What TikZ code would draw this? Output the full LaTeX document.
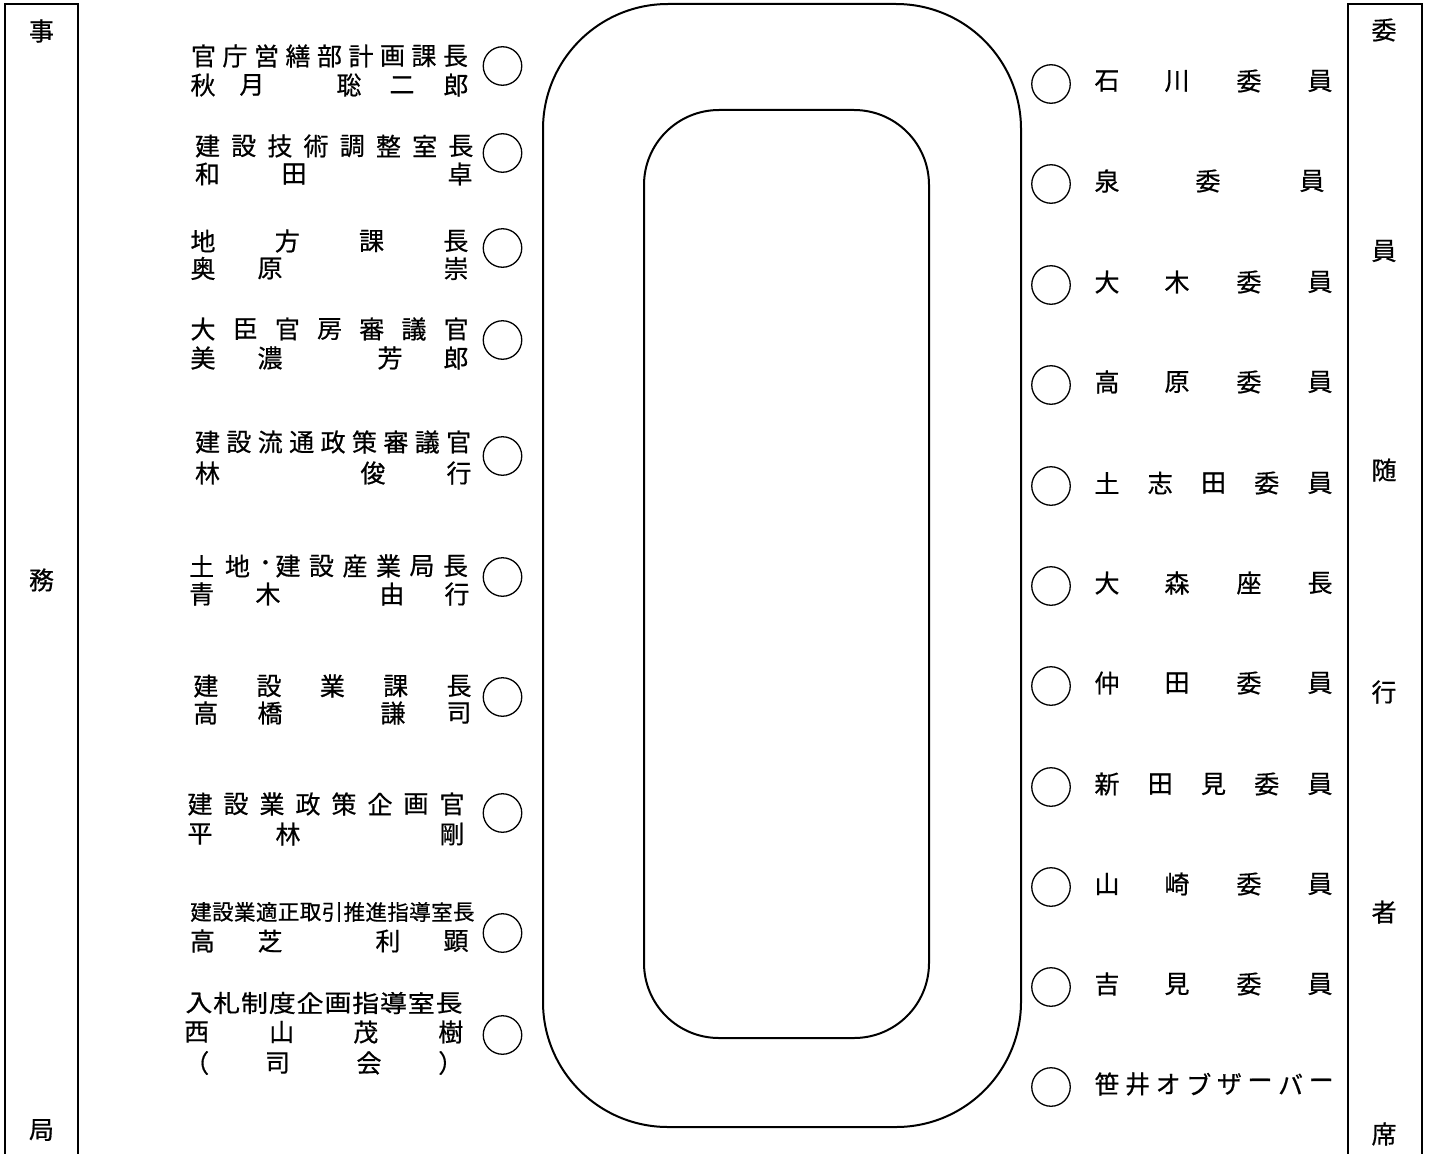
\documentclass[tikz,border=0pt]{standalone}
\usepackage{fontspec}
\usepackage{graphicx}
\setmainfont{Noto Sans CJK JP}[FakeBold=0.6]
\newcommand\evenrow[6]{% style, name, y, x0, step, chars
  \foreach \cc [count=\k from 0] in {#6} {\node[txt,#1] (#2-\k) at ({#4+\k*#5},#3) {\cc};}}
\newcommand\placerow[4]{% style, name, y, x/char list
  \foreach \xx/\cc [count=\k] in {#4} {\node[txt,#1] (#2-\k) at (\xx,#3) {\cc};}}
\begin{document}
\begin{tikzpicture}[x=1pt,y=-1pt,
  txt/.style={inner sep=0pt,font=\fontsize{25}{25}\selectfont},
  small/.style={font=\fontsize{21.5}{21.5}\selectfont},
  wide/.style={font=\fontsize{24}{24}\selectfont},
  seat/.style={circle,draw,line width=1.3pt,minimum size=38.5pt,inner sep=0pt},
  boxline/.style={line width=1.3pt},
  tableline/.style={line width=2pt}]
\useasboundingbox (0,0) rectangle (1431,1153);
\fill[white] (0,0) rectangle (1431,1153);
% side boxes
\draw[boxline] (5,1160) -- (5,4) -- (78,4) -- (78,1160);
\draw[boxline] (1348,1160) -- (1348,4) -- (1422,4) -- (1422,1160);
\node[txt] (jimu1) at (41.5,31) {事};
\node[txt] (jimu2) at (41.5,580) {務};
\node[txt] (jimu3) at (41.5,1130) {局};
\node[txt] (z1) at (1384,30) {委};
\node[txt] (z2) at (1384,251) {員};
\node[txt] (z3) at (1384,470) {随};
\node[txt] (z4) at (1384,692) {行};
\node[txt] (z5) at (1384,912) {者};
\node[txt] (z6) at (1384,1134) {席};
% table
\draw[tableline,rounded corners=125pt] (543,4) rectangle (1021,1127);
\draw[tableline,rounded corners=75pt] (644,110) rectangle (929,1038);
% left seats
\foreach \yy [count=\n] in {66,153,248,340,456,577,697,813,933,1035}
  \node[seat] (ls\n) at (502.5,\yy) {};
% right seats
\foreach \yy [count=\n] in {84,184,285,385,486,586,686,787,887,987,1087}
  \node[seat] (rs\n) at (1051,\yy) {};
% left texts
\evenrow{}{l1a}{56}{203.5}{31.5}{官,庁,営,繕,部,計,画,課,長}
\placerow{}{l1b}{85}{203/秋,252/月,349/聡,402/二,456/郎}
\evenrow{}{l2a}{146}{207.5}{36.2}{建,設,技,術,調,整,室,長}
\placerow{}{l2b}{174}{207.5/和,294/田,460/卓}
\evenrow{}{l3a}{241}{203}{84.3}{地,方,課,長}
\placerow{}{l3b}{268.5}{203/奥,270/原,456/崇}
\evenrow{}{l4a}{329}{203}{42.2}{大,臣,官,房,審,議,官}
\placerow{}{l4b}{358}{203/美,270/濃,390/芳,456/郎}
\evenrow{}{l5a}{442}{207.5}{31.4}{建,設,流,通,政,策,審,議,官}
\placerow{}{l5b}{473}{207.5/林,373/俊,459/行}
\placerow{}{l6a}{566}{201.7/土,237.5/地,288/建,321.5/設,355/産,388.5/業,422/局,455.5/長}
\node[txt] (l6dot) at (265.5,566) {･};
\placerow{}{l6b}{594}{201.7/青,268/木,392/由,457/行}
\evenrow{}{l7a}{686}{205.8}{63.3}{建,設,業,課,長}
\placerow{}{l7b}{713}{205.8/高,270/橋,393/謙,459/司}
\evenrow{}{l8a}{804}{200}{36}{建,設,業,政,策,企,画,官}
\placerow{}{l8b}{834}{200/平,288/林,452/剛}
\evenrow{small}{l9a}{912}{201}{21.9}{建,設,業,適,正,取,引,推,進,指,導,室,長}
\placerow{}{l9b}{941}{202.5/高,270/芝,388/利,456/顕}
\foreach \cc [count=\k from 0] in {入,札,制,度,企,画,指,導,室,長}
  {\node[txt,wide] (l10a-\k) at ({198.9+\k*27.8},1003) {\scalebox{1.12}[1]{\cc}};}
\placerow{}{l10b}{1032}{196.7/西,281.7/山,365.8/茂,450.8/樹}
\placerow{}{l10c}{1063}{196.7/（,277.5/司,369/会,450.8/）}
% right texts
\placerow{}{r1}{81}{1107/石,1177/川,1249/委,1320/員}
\placerow{}{r2}{181}{1107/泉,1208/委,1312/員}
\placerow{}{r3}{282}{1107/大,1177/木,1249/委,1320/員}
\placerow{}{r4}{382}{1107/高,1177/原,1249/委,1320/員}
\evenrow{}{r5}{483}{1107}{53.25}{土,志,田,委,員}
\placerow{}{r6}{583}{1107/大,1177/森,1249/座,1320/長}
\placerow{}{r7}{683}{1107/仲,1177/田,1249/委,1320/員}
\evenrow{}{r8}{784}{1107}{53.25}{新,田,見,委,員}
\placerow{}{r9}{884}{1107/山,1177/崎,1249/委,1320/員}
\placerow{}{r10}{984}{1107/吉,1177/見,1249/委,1320/員}
\evenrow{}{r11}{1084}{1107}{30.6}{笹,井,オ,ブ,ザ,ー,バ,ー}
\end{tikzpicture}
\end{document}
